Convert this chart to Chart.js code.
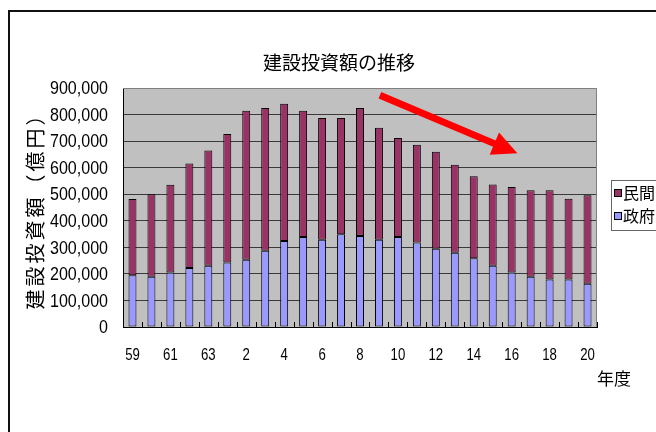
<!DOCTYPE html>
<html>
<head>
<meta charset="utf-8">
<script src="https://cdn.jsdelivr.net/npm/chart.js@4.4.1/dist/chart.umd.min.js"></script>
<style>
  html, body { margin: 0; padding: 0; background: #ffffff; overflow: hidden; }
  #wrap { position: relative; width: 656px; height: 432px; }
</style>
</head>
<body>
<div id="wrap"><canvas id="chart"></canvas></div>
<script>
// 年度 (昭和59年度〜平成20年度)
const years = ['59', '60', '61', '62', '63', '元', '2', '3', '4', '5', '6', '7', '8',
               '9', '10', '11', '12', '13', '14', '15', '16', '17', '18', '19', '20'];

// 建設投資額（億円）
const privateInvest = [287000, 311000, 331000, 394000, 434000, 484000, 561000, 538000, 517000,
                       475000, 458000, 438000, 482000, 421000, 373000, 368000, 365000, 331000,
                       309000, 306000, 322000, 326000, 336000, 304000, 333000];
const governmentInvest = [195000, 189000, 205000, 222000, 231000, 243000, 253000, 287000, 324000,
                          339000, 329000, 349000, 343000, 329000, 339000, 318000, 295000, 280000,
                          259000, 231000, 205000, 189000, 179000, 179000, 163000];

// 縦軸の範囲と目盛間隔
const yMin = 0;
const yMax = 900000;
const yStep = 100000;

// 減少傾向を示す矢印（始点・終点：[年度の位置, 金額]）
const trendArrow = { from: [13.05, 873000], to: [20.3, 654000] };

const NUM_FONT = "'Liberation Sans', Arial, sans-serif";
const JP_FONT = "'Noto Sans CJK JP', 'Noto Sans CJK SC', sans-serif";

const COLOR_PRIVATE = '#993366';
const COLOR_GOV = '#9999FF';

// 横方向に詰めた数字ラベル
function squeezedText(ctx, text, x, y, align, sx) {
  ctx.save();
  ctx.translate(x, y);
  ctx.scale(sx, 1);
  ctx.textAlign = align;
  ctx.textBaseline = 'middle';
  ctx.fillText(text, 0, 0);
  ctx.restore();
}

// 外枠・プロット背景・見出し・凡例・矢印などの描画
const decorations = {
  id: 'decorations',
  beforeDraw(chart) {
    const { ctx, chartArea: a } = chart;
    ctx.save();
    // 外枠
    ctx.strokeStyle = '#111111';
    ctx.lineWidth = 2;
    ctx.strokeRect(9, 11, 1000, 1000);
    // プロットエリア背景
    ctx.fillStyle = '#C0C0C0';
    ctx.fillRect(a.left, a.top, a.right - a.left, a.bottom - a.top);
    ctx.restore();
  },
  afterDatasetsDraw(chart) {
    const { ctx, chartArea: a, scales } = chart;
    const xs = scales.x, ys = scales.y;
    ctx.save();
    // プロットエリアの上・右の枠線
    ctx.strokeStyle = '#808080';
    ctx.lineWidth = 1;
    ctx.beginPath();
    ctx.moveTo(a.left, a.top + 0.5);
    ctx.lineTo(a.right - 0.5, a.top + 0.5);
    ctx.lineTo(a.right - 0.5, a.bottom);
    ctx.stroke();

    // 横軸の目盛（内向き）
    const n = years.length;
    const w = (a.right - a.left) / n;
    ctx.strokeStyle = '#000000';
    ctx.beginPath();
    for (let i = 1; i <= n; i++) {
      const x = Math.round(a.left + i * w) + 0.5;
      ctx.moveTo(x, a.bottom);
      ctx.lineTo(x, a.bottom - 5);
    }
    ctx.stroke();

    // 矢印
    const x1 = xs.getPixelForValue(trendArrow.from[0]);
    const y1 = ys.getPixelForValue(trendArrow.from[1]);
    const x2 = xs.getPixelForValue(trendArrow.to[0]);
    const y2 = ys.getPixelForValue(trendArrow.to[1]);
    const ang = Math.atan2(y2 - y1, x2 - x1);
    const headLen = 25, headHalf = 12;
    const bx = x2 - headLen * Math.cos(ang), by = y2 - headLen * Math.sin(ang);
    ctx.strokeStyle = '#FF0000';
    ctx.fillStyle = '#FF0000';
    ctx.lineWidth = 7;
    ctx.lineCap = 'butt';
    ctx.beginPath();
    ctx.moveTo(x1, y1);
    ctx.lineTo(bx + 2 * Math.cos(ang), by + 2 * Math.sin(ang));
    ctx.stroke();
    ctx.beginPath();
    ctx.moveTo(x2, y2);
    ctx.lineTo(bx - headHalf * Math.sin(ang), by + headHalf * Math.cos(ang));
    ctx.lineTo(bx + headHalf * Math.sin(ang), by - headHalf * Math.cos(ang));
    ctx.closePath();
    ctx.fill();
    ctx.restore();
  },
  afterDraw(chart) {
    const { ctx, chartArea: a, scales } = chart;
    const xs = scales.x, ys = scales.y;
    ctx.save();
    ctx.fillStyle = '#000000';

    // 縦軸の目盛ラベル
    ctx.font = '19px ' + NUM_FONT;
    ys.ticks.forEach((t) => {
      squeezedText(ctx, t.label, a.left - 15, ys.getPixelForValue(t.value) + 1, 'right', 0.845);
    });

    // 横軸の目盛ラベル
    ctx.font = '16.5px ' + NUM_FONT;
    xs.ticks.forEach((t, i) => {
      if (t.label) squeezedText(ctx, t.label, xs.getPixelForTick(i), a.bottom + 28, 'center', 0.8);
    });

    // 見出し
    ctx.font = '19px ' + JP_FONT;
    ctx.textAlign = 'center';
    ctx.textBaseline = 'middle';
    ctx.fillText('建設投資額の推移', 339, 63);

    // 縦軸の見出し
    ctx.save();
    ctx.translate(35, (a.top + a.bottom) / 2);
    ctx.rotate(-Math.PI / 2);
    ctx.font = '20px ' + JP_FONT;
    ctx.letterSpacing = '3px';
    ctx.textAlign = 'center';
    ctx.textBaseline = 'middle';
    ctx.fillText('建設投資額（億円）', 1.5, 0);
    ctx.restore();

    // 横軸の見出し
    ctx.font = '17px ' + JP_FONT;
    ctx.textAlign = 'center';
    ctx.textBaseline = 'middle';
    ctx.fillText('年度', 614, 379);

    // 凡例
    const lx = a.right + 14, ly = 180;
    ctx.strokeStyle = '#666666';
    ctx.lineWidth = 1;
    ctx.strokeRect(lx + 0.5, ly + 0.5, 200, 50);
    const items = [
      { label: chart.data.datasets[1].label, color: COLOR_PRIVATE, y: ly + 13 },
      { label: chart.data.datasets[0].label, color: COLOR_GOV, y: ly + 36 }
    ];
    ctx.font = '16px ' + JP_FONT;
    ctx.textAlign = 'left';
    ctx.textBaseline = 'middle';
    for (const it of items) {
      ctx.fillStyle = it.color;
      ctx.fillRect(lx + 3, it.y - 4, 7, 7);
      ctx.strokeStyle = '#000000';
      ctx.strokeRect(lx + 3.5, it.y - 3.5, 7, 7);
      ctx.fillStyle = '#000000';
      ctx.fillText(it.label, lx + 12, it.y);
    }
    ctx.restore();
  }
};

new Chart(document.getElementById('chart'), {
  type: 'bar',
  data: {
    labels: years,
    datasets: [
      {
        label: '政府',
        data: governmentInvest,
        backgroundColor: COLOR_GOV,
        borderColor: '#000000',
        borderWidth: 1,
        borderSkipped: false,
        barPercentage: 0.42,
        categoryPercentage: 1.0
      },
      {
        label: '民間',
        data: privateInvest,
        backgroundColor: COLOR_PRIVATE,
        borderColor: '#000000',
        borderWidth: 1,
        borderSkipped: false,
        barPercentage: 0.42,
        categoryPercentage: 1.0
      }
    ]
  },
  options: {
    responsive: true,
    maintainAspectRatio: false,
    animation: false,
    layout: { padding: { left: 0, top: 88, right: 59, bottom: 0 } },
    plugins: {
      legend: { display: false },
      title: { display: false },
      tooltip: { enabled: false }
    },
    scales: {
      x: {
        stacked: true,
        grid: { display: false },
        border: { display: true, color: '#000000', width: 1 },
        ticks: {
          display: false,
          autoSkip: false,
          maxRotation: 0,
          callback: (v, i) => (i % 2 === 0 ? years[i] : '')
        },
        afterFit: (s) => { s.height = 105; }
      },
      y: {
        stacked: true,
        min: yMin,
        max: yMax,
        grid: {
          drawTicks: false,
          color: (c) => (c.tick && c.tick.value === yMax ? 'rgba(0,0,0,0)' : '#3a3a3a'),
          lineWidth: 1
        },
        border: { display: true, color: '#000000', width: 1 },
        ticks: {
          display: false,
          stepSize: yStep,
          callback: (v) => v.toLocaleString('en-US')
        },
        afterFit: (s) => { s.width = 123; }
      }
    }
  },
  plugins: [decorations]
});
</script>
</body>
</html>
